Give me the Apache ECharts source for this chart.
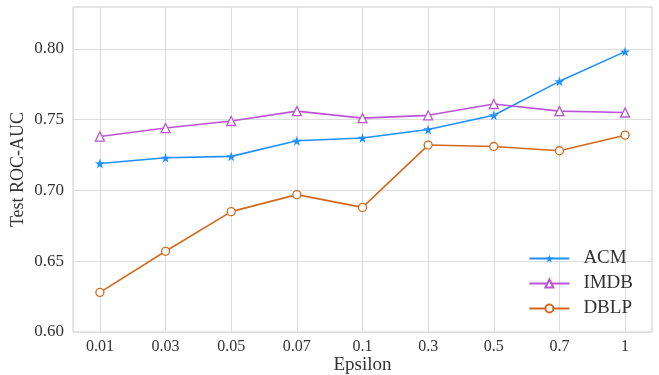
<!DOCTYPE html>
<html>
<head>
<meta charset="utf-8">
<script src="https://cdn.jsdelivr.net/npm/echarts@6/dist/echarts.min.js"></script>
<style>
  html, body { margin: 0; padding: 0; background: #fff; }
  #chart { width: 659px; height: 375px; }
</style>
</head>
<body>
<div id="chart"></div>
<script>
  // epsilon categories along x
  var epsilons = ['0.01', '0.03', '0.05', '0.07', '0.1', '0.3', '0.5', '0.7', '1'];
  var acm  = [0.719, 0.723, 0.724, 0.735, 0.737, 0.743, 0.753, 0.777, 0.798];
  var imdb = [0.738, 0.744, 0.749, 0.756, 0.751, 0.753, 0.761, 0.756, 0.755];
  var dblp = [0.628, 0.657, 0.685, 0.697, 0.688, 0.732, 0.731, 0.728, 0.739];
  var yTicks = [0.60, 0.65, 0.70, 0.75, 0.80];

  var font = 'Liberation Serif';
  var star = 'path://M50,0 L61,35 L98,35 L68,57 L79,91 L50,70 L21,91 L32,57 L2,35 L39,35 Z';

  function pts(arr) {
    return arr.map(function (v, i) { return [i, v]; });
  }

  var chart = echarts.init(document.getElementById('chart'));
  var option = {
    animation: false,
    backgroundColor: '#fff',
    textStyle: { fontFamily: font },
    grid: {
      left: 73, right: 7, top: 7, bottom: 43,
      outerBoundsMode: 'none',
      containLabel: false,
      show: true, borderColor: '#cccccc', borderWidth: 1
    },
    legend: {
      orient: 'vertical',
      right: 21,
      top: 244,
      itemWidth: 40,
      itemHeight: 10,
      itemGap: 6,
      textStyle: { fontFamily: font, fontSize: 19, color: '#333', padding: [0, 0, 0, 9] },
      data: ['ACM', 'IMDB', 'DBLP']
    },
    xAxis: {
      type: 'value',
      min: -0.41,
      max: 8.41,
      name: 'Epsilon',
      nameLocation: 'middle',
      nameMoveOverlap: false,
      nameGap: 24,
      nameTextStyle: { fontFamily: font, fontSize: 19, color: '#333' },
      axisLine: { show: false },
      axisTick: { show: false, customValues: epsilons.map(function (_, i) { return i; }) },
      axisLabel: {
        customValues: epsilons.map(function (_, i) { return i; }),
        formatter: function (v) { return epsilons[Math.round(v)]; },
        fontFamily: font, fontSize: 16, color: '#333', margin: 7
      },
      splitLine: { show: true, lineStyle: { color: '#dddddd', width: 1 } }
    },
    yAxis: {
      type: 'value',
      min: 0.60,
      max: 0.8295,
      name: 'Test ROC-AUC',
      nameLocation: 'middle',
      nameMoveOverlap: false,
      nameGap: 46,
      nameTextStyle: { fontFamily: font, fontSize: 18, color: '#333' },
      axisLine: { show: false },
      axisTick: { show: false, customValues: yTicks },
      axisLabel: {
        customValues: yTicks,
        formatter: function (v) { return v.toFixed(2); },
        fontFamily: font, fontSize: 17, color: '#333', margin: 9
      },
      splitLine: { show: true, lineStyle: { color: '#dddddd', width: 1 } }
    },
    series: [
      {
        name: 'ACM', type: 'line', data: pts(acm),
        symbol: star, symbolSize: 10,
        lineStyle: { color: '#1e90ff', width: 1.6 },
        itemStyle: { color: '#1e90ff' }
      },
      {
        name: 'IMDB', type: 'line', data: pts(imdb),
        symbol: 'triangle', symbolSize: 9,
        lineStyle: { color: '#ba55d3', width: 1.6 },
        itemStyle: { color: '#fff', borderColor: '#ba55d3', borderWidth: 1.3 }
      },
      {
        name: 'DBLP', type: 'line', data: pts(dblp),
        symbol: 'circle', symbolSize: 8,
        lineStyle: { color: '#d2691e', width: 1.6 },
        itemStyle: { color: '#fff', borderColor: '#d2691e', borderWidth: 1.3 }
      }
    ]
  };
  chart.setOption(option);
</script>
</body>
</html>
